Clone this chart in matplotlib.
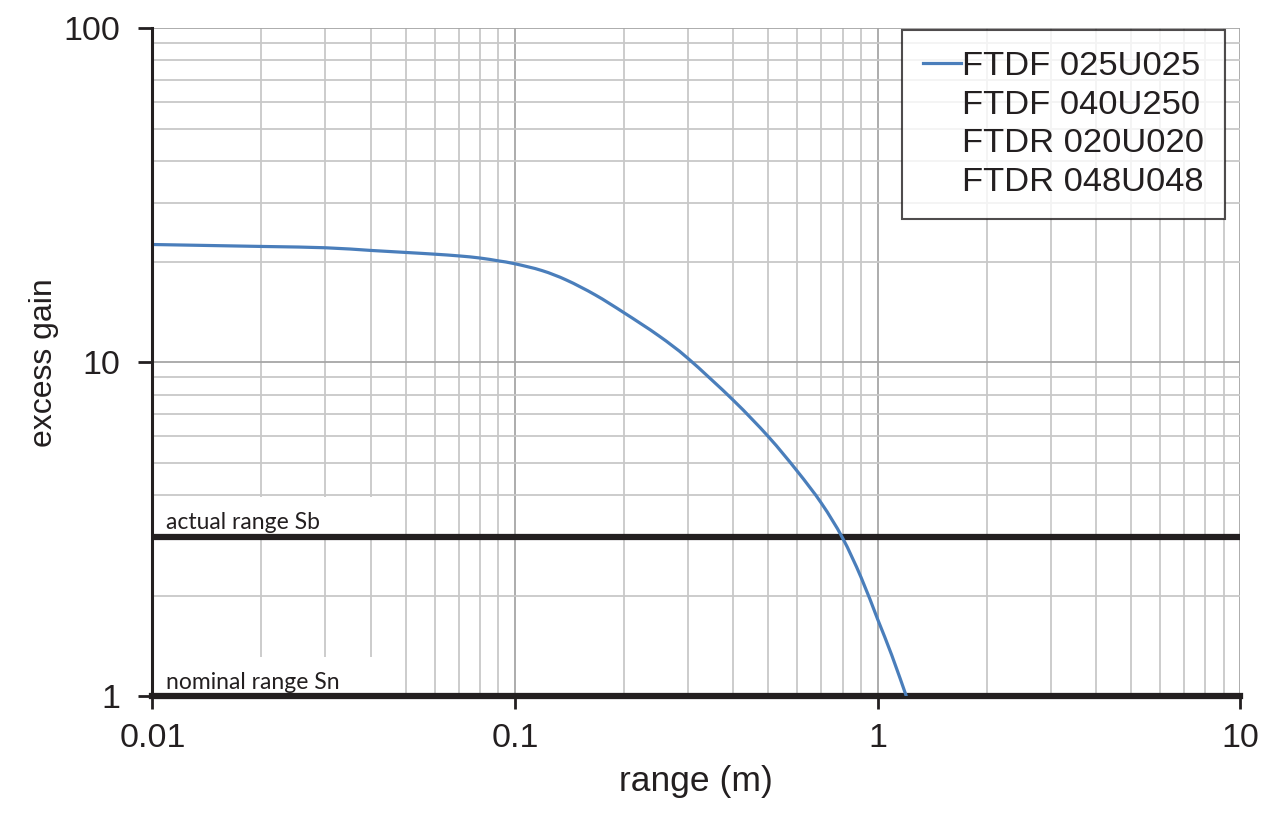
import matplotlib
matplotlib.use("Agg")
import numpy as np
import matplotlib.pyplot as plt
from matplotlib.patches import Rectangle, PathPatch
from matplotlib.path import Path
from matplotlib.lines import Line2D
from matplotlib.ticker import LogLocator, FixedLocator, FixedFormatter, NullFormatter

# ---- data ----
range_m = [0.01, 0.02, 0.03, 0.04, 0.05, 0.06, 0.07, 0.08, 0.09, 0.1, 0.1187, 0.1388,
           0.1664, 0.2, 0.249, 0.3, 0.4, 0.5, 0.6, 0.7, 0.8, 0.9, 1.0, 1.093, 1.2]
excess_gain = [22.5, 22.2, 22.0, 21.6, 21.3, 21.05, 20.8, 20.5, 20.1, 19.7, 18.8, 17.6,
               15.9, 14.05, 12.0, 10.26, 7.69, 5.98, 4.72, 3.78, 2.98, 2.27, 1.70, 1.33, 1.0]
series_labels = ["FTDF 025U025", "FTDF 040U250", "FTDR 020U020", "FTDR 048U048"]
actual_range_level = 3.0
nominal_range_level = 1.0
ref_labels = ["actual range Sb", "nominal range Sn"]
x_ticks = [0.01, 0.1, 1, 10]
x_tick_labels = ["0.01", "0.1", "1", "10"]
y_ticks = [1, 10, 100]
y_tick_labels = ["1", "10", "100"]

plt.rcParams['font.family'] = ['Liberation Sans', 'DejaVu Sans']
TXT = '#231f20'
BLUE = '#4a7ebb'


def smooth_path(xs, ys):
    """Catmull-Rom (Excel 'smoothed line') in log-log space as cubic Bezier path."""
    lx = np.log10(np.asarray(xs, float))
    ly = np.log10(np.asarray(ys, float))
    P = np.column_stack([lx, ly])
    n = len(P)
    verts = [P[0]]
    codes = [Path.MOVETO]
    for i in range(n - 1):
        p0 = P[i - 1] if i > 0 else P[i]
        p1 = P[i]
        p2 = P[i + 1]
        p3 = P[i + 2] if i + 2 < n else P[i + 1]
        c1 = p1 + (p2 - p0) / 6.0
        c2 = p2 - (p3 - p1) / 6.0
        verts += [c1, c2, p2]
        codes += [Path.CURVE4] * 3
    verts = 10 ** np.array(verts)
    return Path(verts, codes)


fig = plt.figure(figsize=(12.8, 8.25), dpi=100)
ax = fig.add_axes([0.119, 0.156, 0.850, 0.810])

ax.set_xscale('log')
ax.set_yscale('log')
ax.set_xlim(0.01, 10)
ax.set_ylim(1, 100)

# grid
ax.xaxis.set_minor_locator(LogLocator(base=10, subs=range(2, 10)))
ax.yaxis.set_minor_locator(LogLocator(base=10, subs=range(2, 10)))
ax.xaxis.set_minor_formatter(NullFormatter())
ax.yaxis.set_minor_formatter(NullFormatter())
ax.grid(True, which='minor', color='#c8c8c8', linewidth=1.3, zorder=0)
ax.grid(True, which='major', color='#a6a6a6', linewidth=1.3, zorder=0)
ax.set_axisbelow(True)

# white boxes behind labels (interrupt gridlines)
ax.add_patch(Rectangle((0.01, actual_range_level), 0.045 - 0.01, 3.95 - actual_range_level,
                       facecolor='white', edgecolor='none', zorder=1))
ax.add_patch(Rectangle((0.01, nominal_range_level), 0.045 - 0.01, 1.31 - nominal_range_level,
                       facecolor='white', edgecolor='none', zorder=1))

# curve (smoothed)
ax.add_patch(PathPatch(smooth_path(range_m, excess_gain), facecolor='none', edgecolor=BLUE,
                       linewidth=2.3, zorder=4, capstyle='butt', joinstyle='round'))

# reference lines
ax.axhline(actual_range_level, color=TXT, linewidth=4.5, zorder=3)
ax.axhline(nominal_range_level, color=TXT, linewidth=4.5, zorder=3, clip_on=False)

ax.text(0.0109, actual_range_level * 1.025, ref_labels[0], fontsize=16.5, family=['Lato', 'DejaVu Sans'],
        color=TXT, ha='left', va='bottom', zorder=5)
ax.text(0.0109, nominal_range_level * 1.025, ref_labels[1], fontsize=16.5, family=['Lato', 'DejaVu Sans'],
        color=TXT, ha='left', va='bottom', zorder=5)

# spines
for s in ['top', 'right', 'bottom']:
    ax.spines[s].set_visible(False)
ax.spines['left'].set_color(TXT)
ax.spines['left'].set_linewidth(2.2)
ax.spines['left'].set_zorder(5)

ax.xaxis.set_major_locator(FixedLocator(x_ticks))
ax.xaxis.set_major_formatter(FixedFormatter(x_tick_labels))
ax.yaxis.set_major_locator(FixedLocator(y_ticks))
ax.yaxis.set_major_formatter(FixedFormatter(y_tick_labels))
ax.tick_params(axis='both', which='minor', length=0)
ax.tick_params(axis='y', which='major', direction='out', length=10, width=2, color=TXT,
               labelsize=24.5, labelcolor=TXT, pad=13)
ax.tick_params(axis='x', which='major', direction='out', length=9, width=2, color=TXT,
               labelsize=24.5, labelcolor=TXT, pad=10)

ax.set_xlabel('range (m)', fontsize=25.5, color=TXT, labelpad=8)
ax.set_ylabel('excess gain', fontsize=23, color=TXT, labelpad=3)

handles = [Line2D([], [], color=BLUE, linewidth=2.3)] + \
          [Line2D([], [], color='none', linewidth=2.3) for _ in series_labels[1:]]
leg = ax.legend(handles, series_labels, loc='upper right', bbox_to_anchor=(0.986, 0.997),
                fontsize=24.8, frameon=True, fancybox=False, edgecolor=TXT, handlelength=1.1,
                handletextpad=0.05, labelspacing=0.22, borderpad=0.6, borderaxespad=0)
leg.get_frame().set_linewidth(1.5)
for t in leg.get_texts():
    t.set_color(TXT)
leg.set_zorder(6)

fig.savefig('out.png', dpi=100, facecolor='white')
